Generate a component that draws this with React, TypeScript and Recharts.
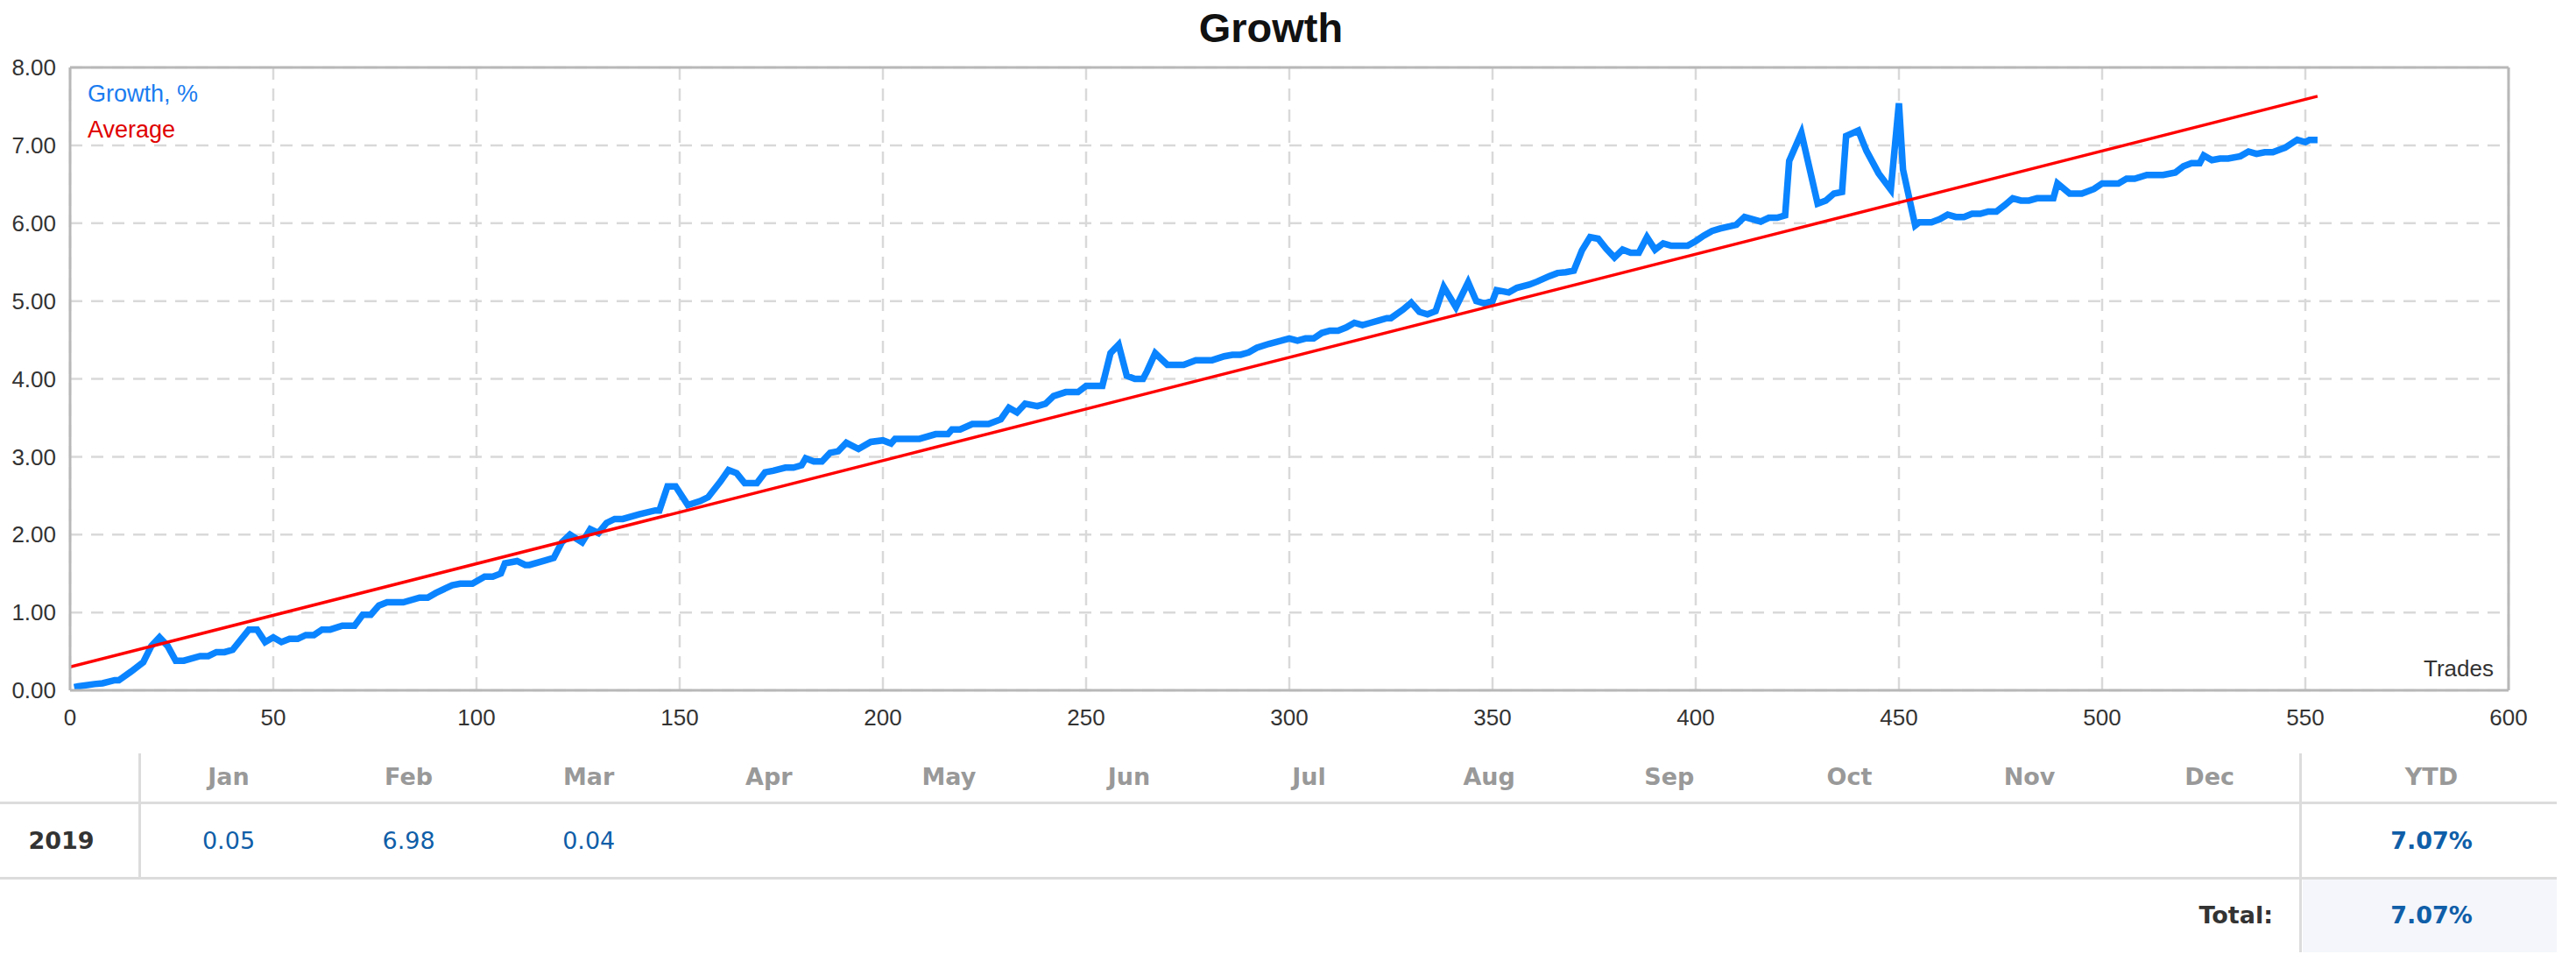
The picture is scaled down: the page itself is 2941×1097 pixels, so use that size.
import React from 'react';
import { LineChart, Line, XAxis, YAxis, CartesianGrid, ReferenceLine } from 'recharts';

// growth curve (trade number -> growth %)
const growthTrades = [
  1, 2, 6, 8, 11, 12, 15, 18, 20, 22, 24, 26, 28, 32, 34, 36, 38, 40, 44, 46,
  48, 50, 52, 54, 56, 58, 60, 62, 64, 67, 70, 72, 74, 76, 78, 82, 86, 88, 90, 94,
  96, 99, 102, 104, 106, 107, 110, 112, 113, 117, 119, 121, 123, 126, 128, 130, 132, 134, 136, 140,
  144, 145, 147, 149, 152, 155, 157, 160, 162, 164, 166, 169, 171, 173, 176, 178, 180, 181, 183, 185,
  187, 189, 191, 194, 197, 200, 202, 203, 209, 213, 216, 217, 219, 222, 226, 229, 231, 233, 235, 238,
  240, 242, 245, 248, 250, 254, 256, 258, 260, 262, 264, 265, 267, 270, 274, 277, 281, 284, 286, 288,
  290, 292, 295, 298, 300, 302, 304, 306, 308, 310, 312, 314, 316, 318, 320, 322, 324, 325, 328, 330,
  332, 334, 336, 338, 341, 344, 346, 348, 350, 351, 354, 356, 359, 361, 364, 366, 368, 370, 372, 374,
  376, 378, 380, 382, 384, 386, 388, 390, 392, 394, 398, 400, 402, 404, 406, 410, 412, 416, 418, 420,
  422, 423, 426, 430, 432, 434, 436, 437, 440, 442, 445, 448, 450, 451, 454, 455, 458, 460, 462, 464,
  466, 468, 470, 472, 474, 476, 478, 480, 482, 484, 488, 489, 492, 495, 498, 500, 504, 506, 508, 511,
  515, 518, 520, 522, 524, 525, 527, 529, 531, 534, 536, 538, 540, 542, 544, 545, 548, 550, 551, 553,
];
const growthValues = [
  0.04, 0.05, 0.08, 0.09, 0.13, 0.13, 0.24, 0.36, 0.57, 0.68, 0.57, 0.38, 0.38, 0.44, 0.44, 0.49, 0.49, 0.52, 0.78, 0.78,
  0.62, 0.68, 0.62, 0.66, 0.66, 0.71, 0.71, 0.78, 0.78, 0.83, 0.83, 0.97, 0.97, 1.09, 1.13, 1.13, 1.19, 1.19, 1.25, 1.35,
  1.37, 1.37, 1.46, 1.46, 1.5, 1.63, 1.66, 1.61, 1.61, 1.67, 1.7, 1.9, 2.0, 1.9, 2.07, 2.02, 2.15, 2.2, 2.2, 2.26,
  2.31, 2.31, 2.62, 2.62, 2.38, 2.43, 2.48, 2.68, 2.83, 2.79, 2.66, 2.66, 2.8, 2.82, 2.86, 2.86, 2.89, 2.98, 2.94, 2.94,
  3.05, 3.07, 3.18, 3.1, 3.19, 3.21, 3.17, 3.23, 3.23, 3.29, 3.29, 3.35, 3.35, 3.42, 3.42, 3.48, 3.63, 3.57, 3.68, 3.65,
  3.68, 3.78, 3.83, 3.83, 3.91, 3.91, 4.33, 4.44, 4.04, 4.0, 4.0, 4.1, 4.33, 4.18, 4.18, 4.24, 4.24, 4.29, 4.31, 4.31,
  4.34, 4.4, 4.45, 4.49, 4.52, 4.49, 4.52, 4.52, 4.59, 4.62, 4.62, 4.66, 4.72, 4.69, 4.72, 4.75, 4.78, 4.78, 4.89, 4.98,
  4.86, 4.83, 4.87, 5.18, 4.92, 5.24, 5.0, 4.97, 5.0, 5.14, 5.11, 5.17, 5.21, 5.25, 5.32, 5.36, 5.37, 5.39, 5.65, 5.82,
  5.8, 5.67, 5.56, 5.66, 5.62, 5.62, 5.82, 5.66, 5.74, 5.71, 5.71, 5.77, 5.84, 5.9, 5.93, 5.98, 6.08, 6.02, 6.07, 6.07,
  6.1, 6.8, 7.16, 6.25, 6.29, 6.38, 6.4, 7.12, 7.19, 6.93, 6.64, 6.43, 7.54, 6.69, 5.97, 6.01, 6.01, 6.05, 6.11, 6.08,
  6.08, 6.12, 6.12, 6.15, 6.15, 6.23, 6.32, 6.29, 6.29, 6.32, 6.32, 6.51, 6.38, 6.38, 6.44, 6.51, 6.51, 6.57, 6.57, 6.62,
  6.62, 6.65, 6.73, 6.77, 6.77, 6.87, 6.81, 6.83, 6.83, 6.86, 6.92, 6.89, 6.91, 6.91, 6.95, 6.97, 7.07, 7.04, 7.07, 7.07,
];

// straight "Average" line, two end points
const avgTrades = [0, 553];
const avgValues = [0.3, 7.63];

const xTicks = [0, 50, 100, 150, 200, 250, 300, 350, 400, 450, 500, 550, 600];
const yTicks = [0, 1, 2, 3, 4, 5, 6, 7, 8];

// table under the chart
const months = ['Jan', 'Feb', 'Mar', 'Apr', 'May', 'Jun', 'Jul', 'Aug', 'Sep', 'Oct', 'Nov', 'Dec'];
const monthValues2019 = ['0.05', '6.98', '0.04', '', '', '', '', '', '', '', '', ''];
const year = '2019';
const ytd2019 = '7.07%';
const totalValue = '7.07%';

const growthData = growthTrades.map((t, i) => ({ trade: t, growth: growthValues[i] }));
const avgData = avgTrades.map((t, i) => ({ trade: t, average: avgValues[i] }));

const BORDER = '#b8b8b8';
const TICK_FONT = { fontFamily: 'Liberation Sans', fontSize: 26, fill: '#333' };
const TABLE_FONT = 'DejaVu Sans';

const colX = (i: number) => 261 + i * 205.6;

const cell = (text: string, cx: number, cy: number, style: React.CSSProperties) => (
  <div
    style={{
      position: 'absolute',
      left: cx - 100,
      top: cy - 15,
      width: 200,
      height: 30,
      lineHeight: '30px',
      textAlign: 'center',
      fontFamily: TABLE_FONT,
      fontSize: 27,
      ...style,
    }}
  >
    {text}
  </div>
);

const App: React.FC = () => {
  return (
    <div style={{ position: 'absolute', left: 0, top: 0, width: 2941, height: 1097, background: '#fff', overflow: 'hidden' }}>
      <div
        style={{
          position: 'absolute', left: 0, top: 8, width: 2902, textAlign: 'center',
          fontFamily: 'Liberation Sans', fontWeight: 700, fontSize: 47, lineHeight: '47px', color: '#111',
        }}
      >
        Growth
      </div>

      <div style={{ position: 'absolute', left: 0, top: 0 }}>
        <LineChart width={2941} height={860} margin={{ top: 77, right: 77, bottom: 0, left: 0 }}>
          <CartesianGrid stroke="#d9d9d9" strokeWidth={2.5} strokeDasharray="14 10" />
          <XAxis
            type="number"
            dataKey="trade"
            domain={[0, 600]}
            ticks={xTicks}
            allowDataOverflow
            height={72}
            tickSize={0}
            tickMargin={22}
            tick={TICK_FONT}
            axisLine={{ stroke: BORDER, strokeWidth: 3 }}
          />
          <YAxis
            type="number"
            domain={[0, 8]}
            ticks={yTicks}
            width={80}
            tickSize={0}
            tickMargin={16}
            tick={TICK_FONT}
            tickFormatter={(v: number) => v.toFixed(2)}
            axisLine={{ stroke: BORDER, strokeWidth: 3 }}
          />
          <ReferenceLine y={8} stroke={BORDER} strokeWidth={3} />
          <ReferenceLine x={600} stroke={BORDER} strokeWidth={3} />
          <Line
            data={growthData}
            dataKey="growth"
            type="linear"
            stroke="#0a84ff"
            strokeWidth={7.5}
            dot={false}
            activeDot={false}
            isAnimationActive={false}
          />
          <Line
            data={avgData}
            dataKey="average"
            type="linear"
            stroke="#ff0000"
            strokeWidth={3.5}
            dot={false}
            activeDot={false}
            isAnimationActive={false}
          />
        </LineChart>
      </div>

      <div style={{ position: 'absolute', left: 100, top: 94, fontFamily: 'Liberation Sans', fontSize: 27, lineHeight: '27px', color: '#1a7cf0' }}>
        Growth, %
      </div>
      <div style={{ position: 'absolute', left: 100, top: 135, fontFamily: 'Liberation Sans', fontSize: 27, lineHeight: '27px', color: '#e00000' }}>
        Average
      </div>
      <div
        style={{
          position: 'absolute', left: 2600, top: 750, width: 247, textAlign: 'right',
          fontFamily: 'Liberation Sans', fontSize: 26, lineHeight: '26px', color: '#333',
        }}
      >
        Trades
      </div>

      {/* table */}
      <div style={{ position: 'absolute', left: 2629, top: 1004, width: 290, height: 83, background: '#f4f6fb' }} />
      <div style={{ position: 'absolute', left: 0, top: 915, width: 2919, height: 3, background: '#dcdcdc' }} />
      <div style={{ position: 'absolute', left: 0, top: 1001, width: 2919, height: 3, background: '#dcdcdc' }} />
      <div style={{ position: 'absolute', left: 158, top: 860, width: 3, height: 142, background: '#dcdcdc' }} />
      <div style={{ position: 'absolute', left: 2625, top: 860, width: 3, height: 227, background: '#dcdcdc' }} />

      {months.map((m, i) => (
        <React.Fragment key={m}>
          {cell(m, colX(i), 887, { color: '#999', fontWeight: 700 })}
          {monthValues2019[i] ? cell(monthValues2019[i], colX(i), 960, { color: '#0f5ea8' }) : null}
        </React.Fragment>
      ))}
      {cell('YTD', 2776, 887, { color: '#999', fontWeight: 700 })}
      {cell(year, 70, 960, { color: '#333', fontWeight: 700 })}
      {cell(ytd2019, 2776, 960, { color: '#0f5ea8', fontWeight: 700 })}
      <div
        style={{
          position: 'absolute', left: 2395, top: 1030, width: 200, height: 30, lineHeight: '30px', textAlign: 'right',
          fontFamily: TABLE_FONT, fontSize: 27, fontWeight: 700, color: '#333',
        }}
      >
        Total:
      </div>
      {cell(totalValue, 2776, 1045, { color: '#0f5ea8', fontWeight: 700 })}
    </div>
  );
};

export default App;
